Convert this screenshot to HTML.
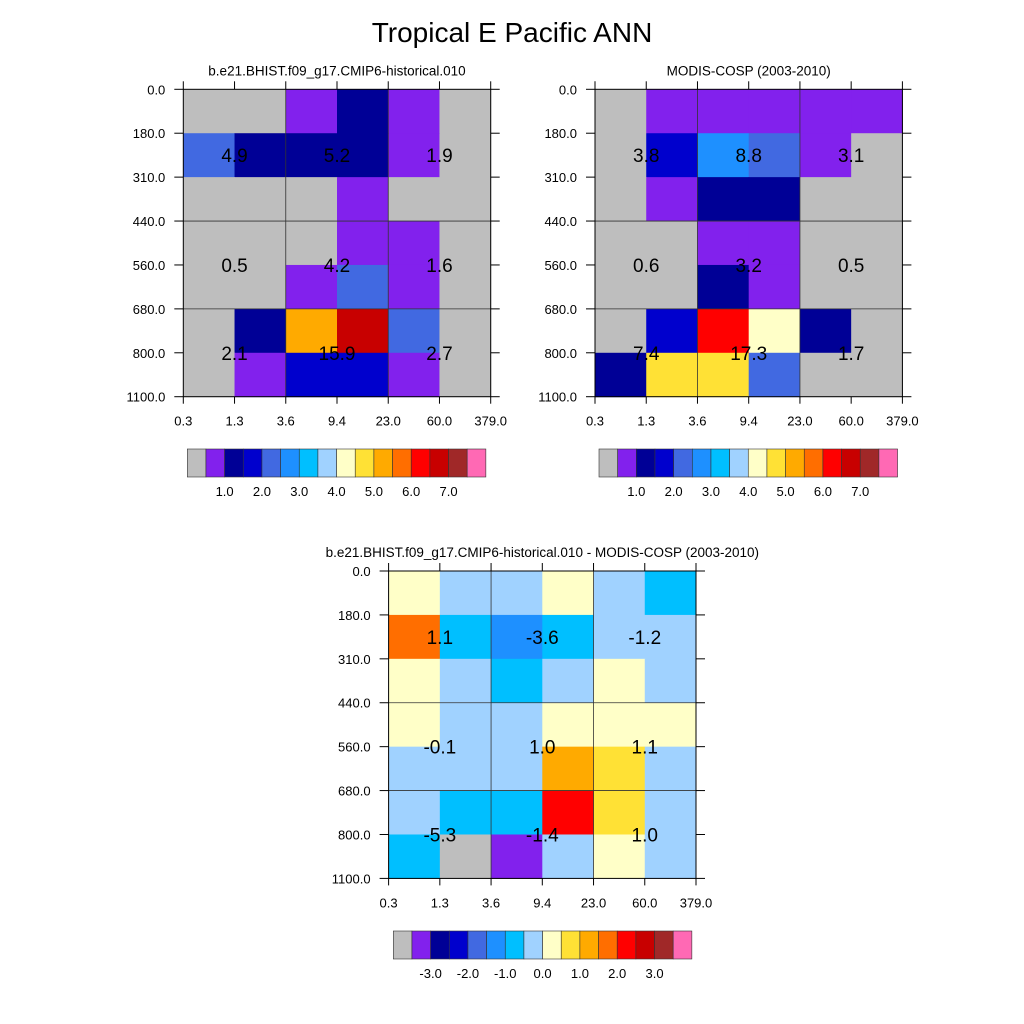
<!DOCTYPE html>
<html><head><meta charset="utf-8"><style>
body{margin:0;background:#fff}
svg{display:block;font-family:"Liberation Sans",sans-serif}
</style></head><body>
<svg id="s" width="1024" height="1024" viewBox="0 0 1024 1024">
<text x="512" y="42" font-size="28" text-anchor="middle">Tropical E Pacific ANN</text>
</svg>
<script>
const palette=["#bebebe","#8221ed","#000096","#0000cd","#4169e1","#1e90ff","#00bfff","#a0d2ff","#ffffc8","#ffe135","#ffaa00","#ff6e00","#ff0000","#c80000","#a02828","#ff69b4"];
const xTicks=["0.3","1.3","3.6","9.4","23.0","60.0","379.0"];
const yTicks=["0.0","180.0","310.0","440.0","560.0","680.0","800.0","1100.0"];
const gridModel=[[0,0,1,2,1,0],[4,2,2,2,1,0],[0,0,0,1,0,0],[0,0,0,1,1,0],[0,0,1,4,1,0],[0,2,10,13,4,0],[0,1,3,3,1,0]];
const gridObs=[[0,1,1,1,1,1],[0,3,5,4,1,0],[0,1,2,2,0,0],[0,0,1,1,0,0],[0,0,2,1,0,0],[0,3,12,8,2,0],[2,9,9,4,0,0]];
const gridDiff=[[8,7,7,8,7,6],[11,6,5,6,7,7],[8,7,6,7,8,7],[8,7,7,8,8,8],[7,7,7,10,9,7],[7,6,6,12,9,7],[6,0,1,7,8,7]];
const valsModel=[["4.9","5.2","1.9"],["0.5","4.2","1.6"],["2.1","15.9","2.7"]];
const valsObs=[["3.8","8.8","3.1"],["0.6","3.2","0.5"],["7.4","17.3","1.7"]];
const valsDiff=[["1.1","-3.6","-1.2"],["-0.1","1.0","1.1"],["-5.3","-1.4","1.0"]];
const cbLabelsAbs=["1.0","2.0","3.0","4.0","5.0","6.0","7.0"];
const cbLabelsDiff=["-3.0","-2.0","-1.0","0.0","1.0","2.0","3.0"];
const svg=document.getElementById('s');
const NS="http://www.w3.org/2000/svg";
function el(tag,attrs,parent){const e=document.createElementNS(NS,tag);for(const k in attrs)e.setAttribute(k,attrs[k]);(parent||svg).appendChild(e);return e;}
function panel(name,x0,y0,W,H,grid,vals,title,cbx,cby,cbLabels){
  const g=el('g',{});
  
  
  const cw=W/6,ch=H/7;
  const xs=i=>x0+i*cw, ys=j=>y0+j*ch;
  grid.forEach((row,j)=>row.forEach((v,i)=>{
    const r=el('rect',{x:xs(i),y:ys(j),width:cw+0.5,height:ch+0.5,fill:palette[v]},g);
    
    
  }));
  [2,4].forEach(i=>el('line',{x1:xs(i),x2:xs(i),y1:y0,y2:y0+H,stroke:'#333','stroke-width':0.8},g));
  [3,5].forEach(j=>el('line',{x1:x0,x2:x0+W,y1:ys(j),y2:ys(j),stroke:'#333','stroke-width':0.8},g));
  el('rect',{x:x0,y:y0,width:W,height:H,fill:'none',stroke:'#000','stroke-width':1},g);
  xTicks.forEach((t,i)=>{
    el('line',{x1:xs(i),x2:xs(i),y1:y0,y2:y0-8,stroke:'#000'},g);
    el('line',{x1:xs(i),x2:xs(i),y1:y0+H,y2:y0+H+7,stroke:'#000'},g);
    const tx=el('text',{x:xs(i),y:y0+H+29,'font-size':13,'text-anchor':'middle'},g);tx.textContent=t;
    
    
  });
  yTicks.forEach((t,j)=>{
    el('line',{x1:x0,x2:x0-9,y1:ys(j),y2:ys(j),stroke:'#000'},g);
    el('line',{x1:x0+W,x2:x0+W+9,y1:ys(j),y2:ys(j),stroke:'#000'},g);
    const tx=el('text',{x:x0-18,y:ys(j)+5,'font-size':13,'text-anchor':'end'},g);tx.textContent=t;
    
    
  });
  const ly=[ys(1.5),ys(4),ys(6)];
  vals.forEach((row,r)=>row.forEach((v,c)=>{
    const tx=el('text',{x:xs(1+2*c),y:ly[r]+7,'font-size':19,'text-anchor':'middle'},g);tx.textContent=v;
    
    
  }));
  const tt=el('text',{x:x0+W/2,y:y0-14,'font-size':13.5,'text-anchor':'middle'},g);tt.textContent=title;
  
  
  const bw=18.66;
  palette.forEach((c,k)=>{
    const r=el('rect',{x:cbx+k*bw,y:cby,width:bw,height:28,fill:c,stroke:'#333','stroke-width':0.6},g);
    
    
  });
  cbLabels.forEach((t,k)=>{
    const tx=el('text',{x:cbx+(2+2*k)*bw,y:cby+47,'font-size':13,'text-anchor':'middle'},g);tx.textContent=t;
    
    
  });
}
panel('model-panel',183.3,89.3,307.4,307.4,gridModel,valsModel,'b.e21.BHIST.f09_g17.CMIP6-historical.010',187.3,449,cbLabelsAbs);
panel('obs-panel',595,89.3,307.4,307.4,gridObs,valsObs,'MODIS-COSP (2003-2010)',599,449,cbLabelsAbs);
panel('diff-panel',388.6,571,307.4,307.4,gridDiff,valsDiff,'b.e21.BHIST.f09_g17.CMIP6-historical.010 - MODIS-COSP (2003-2010)',393.3,931,cbLabelsDiff);
</script>
</body></html>
